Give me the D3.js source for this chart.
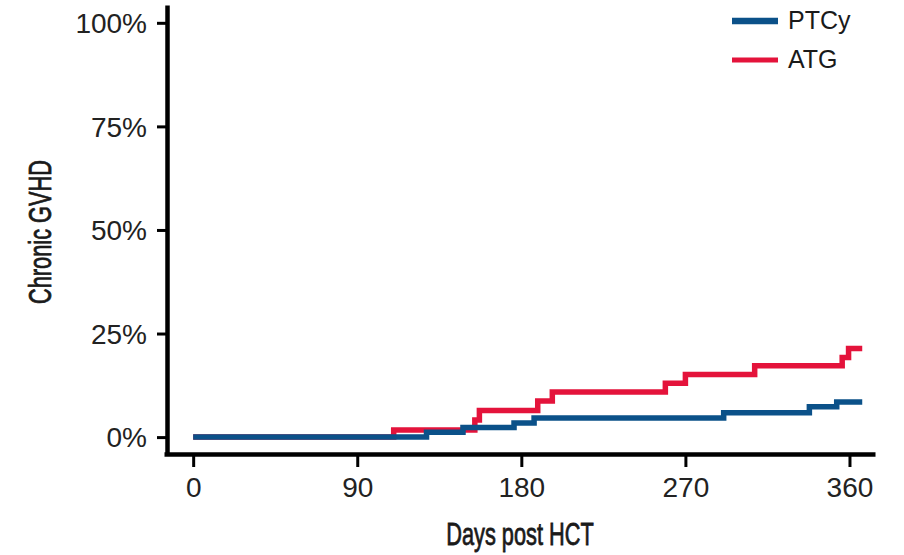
<!DOCTYPE html>
<html>
<head>
<meta charset="utf-8">
<script src="https://d3js.org/d3.v7.min.js"></script>
<style>
  body { margin: 0; background: #fff; }
  svg { display: block; }
  .axis text { font-family: "Liberation Sans", Arial, sans-serif; fill: #222; }
  .title { font-family: "Liberation Sans", Arial, sans-serif; fill: #1a1a1a; stroke: #1a1a1a; stroke-width: 0.8; }
</style>
</head>
<body>
<div id="chart"></div>
<script>
// cumulative incidence of chronic GVHD (days, percent)
const ptcyDays = [0, 128, 148, 176, 187, 291, 338, 353, 367];
const ptcyPct  = [0, 1.2, 2.3, 3.4, 4.6, 5.9, 7.3, 8.5, 8.5];

const atgDays = [0, 110, 154.5, 157, 189, 197, 259, 270, 308, 356, 359.5, 367];
const atgPct  = [0, 1.7, 4.1, 6.4, 8.7, 10.9, 13.0, 15.1, 17.2, 19.2, 21.4, 21.4];

const xTicks = [0, 90, 180, 270, 360];
const yTicks = [0, 0.25, 0.5, 0.75, 1];

const seriesNames = ['PTCy', 'ATG'];
const colors = {PTCy: '#0b5189', ATG: '#e4133b'};

const width = 904, height = 555;

const toPoints = (days, pct) => days.map((d, i) => ({day: d, p: pct[i] / 100}));

const svg = d3.select('#chart').append('svg')
    .attr('width', width)
    .attr('height', height);

let x = d3.scaleLinear().domain([-16, 374]).range([164, 875]);
let y = d3.scaleLinear().domain([-0.042, 1.043]).range([454.5, 5]);

// axes
let yAxis = svg.append('g')
    .attr('class', 'axis')
    .attr('transform', 'translate(167,0)')
    .call(d3.axisLeft(y)
        .tickValues(yTicks)
        .tickFormat(d3.format('.0%'))
        .tickSizeOuter(0)
        .tickSizeInner(10)
        .tickPadding(10));

yAxis.select('.domain').attr('stroke', '#000').attr('stroke-width', 4.5);
yAxis.selectAll('.tick line').attr('stroke', '#000').attr('stroke-width', 3);
yAxis.selectAll('.tick text')
    .attr('font-size', 28)
    .attr('dy', '0.35em');

let xAxis = svg.append('g')
    .attr('class', 'axis')
    .attr('transform', 'translate(0,454)')
    .call(d3.axisBottom(x)
        .tickValues(xTicks)
        .tickSizeOuter(0)
        .tickSizeInner(13)
        .tickPadding(10));

xAxis.select('.domain').attr('stroke', '#000').attr('stroke-width', 4.5);
xAxis.selectAll('.tick line').attr('stroke', '#000').attr('stroke-width', 3);
xAxis.selectAll('.tick text')
    .attr('font-size', 28)
    .attr('dy', '0.71em');

// axis titles (condensed face)
svg.append('text')
    .attr('class', 'title')
    .attr('transform', 'translate(520,545) scale(0.68,1)')
    .attr('text-anchor', 'middle')
    .attr('font-size', 32)
    .text('Days post HCT');

svg.append('text')
    .attr('class', 'title')
    .attr('transform', 'translate(51,232) rotate(-90) scale(0.68,1)')
    .attr('text-anchor', 'middle')
    .attr('font-size', 32)
    .text('Chronic GVHD');

// step curves, ATG underneath PTCy
const line = d3.line()
    .x(d => x(d.day))
    .y(d => y(d.p))
    .curve(d3.curveStepAfter);

const series = {
    ATG: toPoints(atgDays, atgPct),
    PTCy: toPoints(ptcyDays, ptcyPct)
};

['ATG', 'PTCy'].forEach(name => {
    svg.append('path')
        .datum(series[name])
        .attr('fill', 'none')
        .attr('stroke', colors[name])
        .attr('stroke-width', 5.5)
        .attr('d', line);
});

// legend
let legend = svg.append('g').attr('transform', 'translate(732,21)');
seriesNames.forEach((name, i) => {
    let row = legend.append('g').attr('transform', `translate(0,${i * 39})`);
    row.append('line')
        .attr('x1', 0).attr('x2', 46)
        .attr('stroke', colors[name])
        .attr('stroke-width', name === 'PTCy' ? 6.5 : 5);
    row.append('text')
        .attr('x', 56)
        .attr('y', 8)
        .attr('font-family', '"Liberation Sans", Arial, sans-serif')
        .attr('font-size', 25)
        .attr('fill', '#1a1a1a')
        .text(name);
});
</script>
</body>
</html>
